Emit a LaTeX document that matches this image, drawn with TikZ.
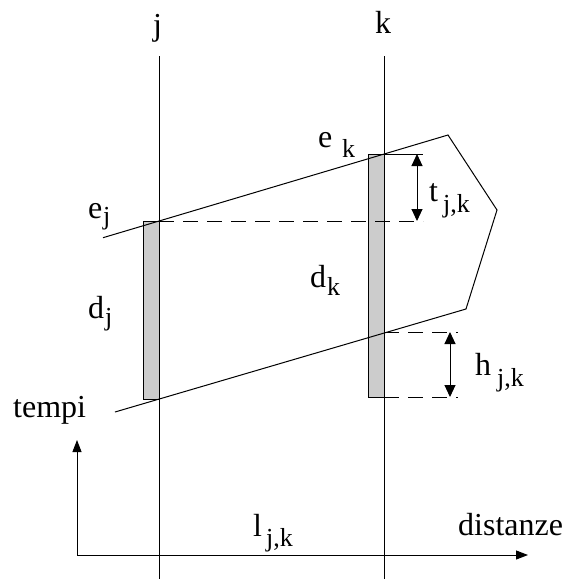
\documentclass[tikz,border=0pt]{standalone}
\usepackage{fontspec}
\setmainfont{Liberation Serif}
\usetikzlibrary{arrows.meta}
\begin{document}
\begin{tikzpicture}[x=1pt,y=-1pt,
  thinline/.style={line width=1pt,black},
  dashline/.style={thinline,dash pattern=on 15pt off 9pt},
  bar/.style={draw=black,line width=0.8pt,fill=gray!40},
  dimarrow/.style={thinline,{Triangle[length=12pt,width=11pt]}-{Triangle[length=12pt,width=11pt]}},
  axisarrow/.style={thinline,-{Triangle[length=12pt,width=9pt]}},
  lab/.style={anchor=base west,inner sep=0pt,font=\fontsize{32}{36}\selectfont},
  sub/.style={anchor=base west,inner sep=0pt,font=\fontsize{26}{30}\selectfont}]
\useasboundingbox (0,0) rectangle (566,579);
% vertical lines
\coordinate (jtop) at (159,56); \coordinate (jbot) at (159,579);
\coordinate (ktop) at (384,56); \coordinate (kbot) at (384,579);
% bars
\draw[bar] (143,221) rectangle (159,399);
\draw[bar] (368,154) rectangle (384,397);
\draw[thinline] (jtop) -- (jbot);
\draw[thinline] (ktop) -- (kbot);
% polygon
\coordinate (p1) at (103,237.7);
\coordinate (p2) at (448,135);
\coordinate (p3) at (497,210);
\coordinate (p4) at (466,309);
\coordinate (p5) at (115,412);
\draw[thinline] (p1) -- (p2) -- (p3) -- (p4) -- (p5);
% t dims
\coordinate (t1a) at (384,154); \coordinate (t1b) at (423,154);
\coordinate (t2a) at (159,221); \coordinate (t2b) at (423,221);
\draw[thinline] (t1a) -- (t1b);
\draw[dashline] (t2a) -- (t2b);
\coordinate (ta) at (417,154); \coordinate (tb) at (417,221);
\draw[dimarrow] (ta) -- (tb);
% h dims
\coordinate (h1a) at (384,332); \coordinate (h1b) at (458,332);
\coordinate (h2a) at (384,397); \coordinate (h2b) at (458,397);
\draw[dashline] (h1a) -- (h1b);
\draw[dashline] (h2a) -- (h2b);
\coordinate (ha) at (450,332); \coordinate (hb) at (450,397);
\draw[dimarrow] (ha) -- (hb);
% axes
\coordinate (o) at (77,555);
\coordinate (yend) at (77,440);
\coordinate (xend) at (528,555);
\draw[axisarrow] (o) -- (yend);
\draw[axisarrow] (o) -- (xend);
% labels
\node[lab] (lj) at (153,35) {j};
\node[lab] (lk) at (375,33) {k};
\node[lab] (ej) at (88,218) {e};
\node[sub] (ejs) at (103,224) {j};
\node[lab] (ek) at (318,147) {e};
\node[sub] (eks) at (342,157) {k};
\node[lab] (dj) at (88,318) {d};
\node[sub] (djs) at (105,325) {j};
\node[lab] (dk) at (310,287) {d};
\node[sub] (dks) at (327,295) {k};
\node[lab] (tl) at (429,201) {t};
\node[sub] (tls) at (443,212) {j,k};
\node[lab] (hl) at (475,375) {h};
\node[sub] (hls) at (497,386) {j,k};
\node[lab] (ll) at (253,536) {l};
\node[sub] (lls) at (266,546) {j,k};
\node[lab] (tempi) at (13,417) {tempi};
\node[lab] (dist) at (458,535) {distanze};
\end{tikzpicture}
\end{document}
